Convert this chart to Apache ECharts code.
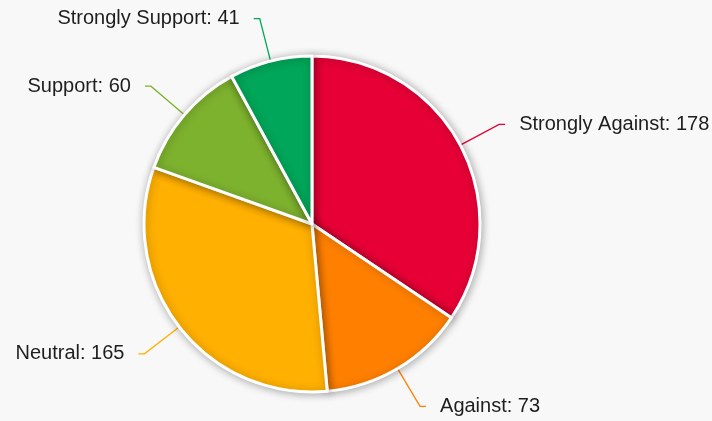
<!DOCTYPE html>
<html><head><meta charset="utf-8">
<script src="https://cdn.jsdelivr.net/npm/echarts@6/dist/echarts.min.js"></script>
<style>html,body{margin:0;padding:0;background:#f8f8f8;}#c{width:712px;height:421px;}</style>
</head><body><div id="c"></div>
<script>
const categories = ["Strongly Against", "Against", "Neutral", "Support", "Strongly Support"];
const values = [178, 73, 165, 60, 41];
const colors = ["#e60036", "#ff8000", "#ffb000", "#7db22e", "#00a659"];

const chart = echarts.init(document.getElementById('c'));
chart.setOption({
  backgroundColor: '#f8f8f8',
  animation: false,
  series: [{
    type: 'pie',
    center: [312, 224],
    radius: 168,
    startAngle: 90,
    clockwise: true,
    data: categories.map((n, i) => ({ name: n, value: values[i], itemStyle: { color: colors[i] } })),
    itemStyle: { borderColor: '#fff', borderWidth: 3, shadowBlur: 8, shadowColor: 'rgba(0,0,0,0.3)', shadowOffsetX: 1, shadowOffsetY: 1 },
    label: { formatter: '{b}: {c}', fontSize: 20, color: '#1e1e1e', fontFamily: 'Liberation Sans, Arial, sans-serif', distanceToLabelLine: 14, overflow: 'none', padding: [5, 0, 0, 0] },
    labelLine: { length: 44, length2: 6, lineStyle: { width: 1.3 } }
  }]
});
</script></body></html>
